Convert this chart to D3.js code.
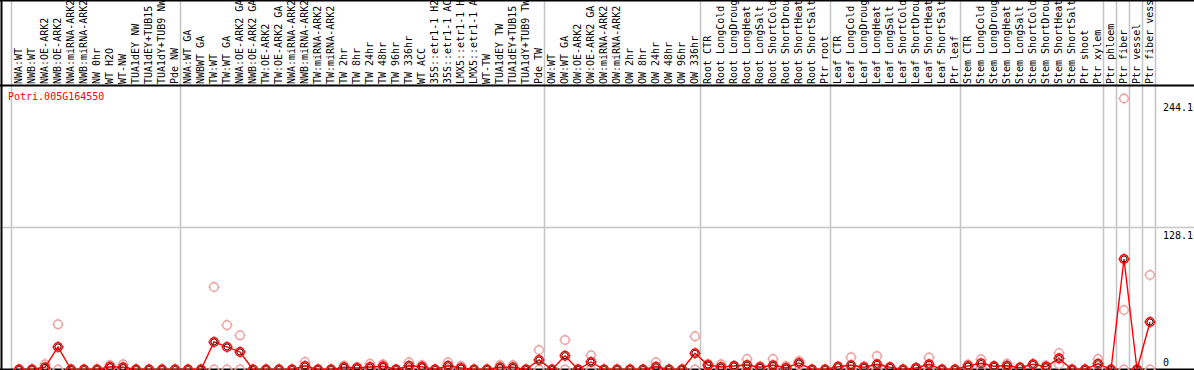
<!DOCTYPE html>
<html>
<head>
<meta charset="utf-8">
<script src="https://cdn.jsdelivr.net/npm/d3@7"></script>
<style>
  body { margin: 0; background: #fff; }
  svg { display: block; }
  text { font-family: "DejaVu Sans Mono", monospace; font-size: 10px; }
</style>
</head>
<body>
<svg id="chart"></svg>
<script>
var gene = "Potri.005G164550";

var samples = [
  "NWA:WT","NWB:WT","NWA:OE-ARK2","NWB:OE-ARK2","NWA:miRNA-ARK2","NWB:miRNA-ARK2","NW 0hr","WT H2O","WT-NW","TUA1dEY NW","TUA1dEY+TUB15 NW","TUA1dY+TUB9 NW","Pde NW",
  "NWA:WT GA","NWBWT GA","TW:WT","TW:WT GA","NWA:OE-ARK2 GA","NWB:OE-ARK2 GA","TW:OE-ARK2","TW:OE-ARK2 GA","NWA:miRNA-ARK2 GA","NWB:miRNA-ARK2 GA","TW:miRNA-ARK2","TW:miRNA-ARK2 GA","TW 2hr","TW 8hr","TW 24hr","TW 48hr","TW 96hr","TW 336hr","WT ACC","35S::etr1-1 H2O","35S::etr1-1 ACC","LMX5::etr1-1 H2O","LMX5::etr1-1 ACC","WT-TW","TUA1dEY TW","TUA1dEY+TUB15 TW","TUA1dY+TUB9 TW","Pde TW",
  "OW:WT","OW:WT GA","OW:OE-ARK2","OW:OE-ARK2 GA","OW:miRNA-ARK2","OW:miRNA-ARK2 GA","OW 2hr","OW 8hr","OW 24hr","OW 48hr","OW 96hr","OW 336hr",
  "Root CTR","Root LongCold","Root LongDrought","Root LongHeat","Root LongSalt","Root ShortCold","Root ShortDrought","Root ShortHeat","Root ShortSalt","Ptr root",
  "Leaf CTR","Leaf LongCold","Leaf LongDrought","Leaf LongHeat","Leaf LongSalt","Leaf ShortCold","Leaf ShortDrought","Leaf ShortHeat","Leaf ShortSalt","Ptr leaf",
  "Stem CTR","Stem LongCold","Stem LongDrought","Stem LongHeat","Stem LongSalt","Stem ShortCold","Stem ShortDrought","Stem ShortHeat","Stem ShortSalt","Ptr shoot","Ptr xylem",
  "Ptr phloem","Ptr fiber","Ptr vessel","Ptr fiber vessel"
];

// columns per group, a grey separator after each
var groupSizes = [13, 28, 12, 10, 10, 11, 1, 1, 1, 1];

// mean expression (dark markers + line)
var means = [
  0,0,2,20.3,0,0,0,2.5,2,0,0,0,0,
  0,0,24.8,20.3,15.8,0,0,0,0,3.2,0,0,2,1.4,2.3,2.9,0,3.4,2.5,0,3.4,1.4,0,0,2,2,0,8.6,
  0,12.4,0,6.8,0,0,0,0,2.5,0,0,14.6,
  4,2.3,3.2,4,2,3.8,1.4,5.9,0,0,
  2.5,3.8,2,4.7,2,0,1.4,4.7,0,0,
  3.2,5.5,2.9,3.4,1.7,4.7,2.5,10,0,0,5.2,
  0,99.5,0,42.8
];

// replicate values (pale markers)
var reps = [
  [0,0],[0,0],[4.7,0],[40.7,0],[0,0],[0,0],[0,0],[4,1],[4.7,0],[0,0],[0,0],[0,0],[0,0],
  [0,0],[0,0],[74.3,0],[40,0],[30.8,0],[0,0],[0,0],[0,0],[0,0],[6.8,0],[0,0],[0,0],[3.4,0.6],[2.3,0.5],[5.2,0],[4.7,1],[0,0],[6.5,0.3],[4,1],[0,0],[6.5,0.3],[3.2,0],[0,0],[0,0],[4,0],[4,0],[0,0],[17.6,0],
  [0,0],[26.6,0],[0,0],[12.8,0],[0,0],[0,0],[0,0],[0,0],[6.5,0],[0,0],[0,0],[29.9,0],
  [5,3],[4.7,0],[3.2,3.2],[9.5,0],[2.9,1],[9.5,0],[2.9,0],[7.7,4],[0,0],[0,0],
  [2.9,2],[11,0],[2.9,1],[12.2,0],[2,2],[0,0],[1.4,1.4],[10.7,0],[0,0],[0,0],
  [2,4.4],[9.2,1.8],[2.9,2.9],[5.2,1.6],[1.7,1.7],[4.7,4.7],[3.8,1.2],[14.9,4.7],[0,0],[0,0],[9.5,0.9],
  [0,0],[244.1,53.6,0],[0,0],[85.1,0]
];

var yTicks = [0, 128.1, 244.1];

var width = 1194, height = 370;
var svg = d3.select("#chart").attr("width", width).attr("height", height);

var x = d3.scaleBand().domain(d3.range(samples.length)).range([11, 1155]);
var cx = function(i) { return x(i) + 8; };
var y = d3.scaleLinear().domain([0, 244.1]).range([369.5, 98.5]);

// group separators
var bounds = [0];
groupSizes.forEach(function(n) { bounds.push(bounds[bounds.length - 1] + n); });
svg.selectAll("line.sep").data(bounds).enter().append("line")
  .attr("class", "sep")
  .attr("x1", function(b) { return x.step() * b + 11.5; })
  .attr("x2", function(b) { return x.step() * b + 11.5; })
  .attr("y1", 0).attr("y2", height)
  .attr("stroke", "#c4c4c4").attr("stroke-width", 1.5);

// horizontal grid at the middle tick
svg.append("line")
  .attr("x1", 0).attr("x2", width)
  .attr("y1", Math.round(y(128.1)) + 0.5).attr("y2", Math.round(y(128.1)) + 0.5)
  .attr("stroke", "#c4c4c4").attr("stroke-width", 1.5);

// frame
svg.append("line").attr("x1", 0).attr("x2", width).attr("y1", 0.5).attr("y2", 0.5).attr("stroke", "#000").attr("stroke-width", 2);
svg.append("line").attr("x1", 0).attr("x2", width).attr("y1", 85.5).attr("y2", 85.5).attr("stroke", "#000").attr("stroke-width", 2);
svg.append("line").attr("x1", 0).attr("x2", width).attr("y1", 369.5).attr("y2", 369.5).attr("stroke", "#000").attr("stroke-width", 2);
svg.append("line").attr("x1", 1.5).attr("x2", 1.5).attr("y1", 0).attr("y2", height).attr("stroke", "#000").attr("stroke-width", 2);

// column labels
svg.selectAll("text.lab").data(samples).enter().append("text")
  .attr("class", "lab")
  .attr("transform", function(d, i) { return "translate(" + (cx(i) + 3) + ",84) rotate(-90)"; })
  .attr("fill", "#000")
  .text(function(d) { return d; });

// y tick labels
svg.selectAll("text.tick").data(yTicks).enter().append("text")
  .attr("class", "tick")
  .attr("x", 1163)
  .attr("y", function(d) { return d === 0 ? 366 : Math.round(y(d)) + 12; })
  .attr("fill", "#000")
  .text(function(d) { return d === 0 ? "0" : d3.format(".1f")(d); });

svg.append("text").attr("x", 8).attr("y", 100).attr("fill", "#f00").text(gene);

// marker: ring with four tiny spokes
function marker(g, color, r) {
  g.append("circle").attr("r", r).attr("fill", "none").attr("stroke", color).attr("stroke-width", 1.5);
  g.append("path")
    .attr("d", "M0," + (-r - 1.5) + "V" + (-r) + "M0," + r + "V" + (r + 1.5) +
               "M" + (-r - 1.5) + ",0H" + (-r) + "M" + r + ",0H" + (r + 1.5))
    .attr("stroke", color).attr("stroke-width", 1);
}

// replicate points
var repPts = [];
reps.forEach(function(r, i) { r.forEach(function(v) { repPts.push({ i: i, v: v }); }); });
var rg = svg.selectAll("g.rep").data(repPts).enter().append("g")
  .attr("class", "rep")
  .attr("transform", function(d) { return "translate(" + cx(d.i) + "," + y(d.v) + ")"; });
marker(rg, "#f0a0a0", 4.3);

// mean line
var line = d3.line().x(function(d, i) { return cx(i); }).y(function(d) { return y(d); });
svg.append("path").datum(means).attr("d", line)
  .attr("fill", "none").attr("stroke", "#f00").attr("stroke-width", 1.4);

var mg = svg.selectAll("g.mean").data(means).enter().append("g")
  .attr("class", "mean")
  .attr("transform", function(d, i) { return "translate(" + cx(i) + "," + y(d) + ")"; });
marker(mg, "#f00", 4.3);
mg.append("circle").attr("r", 3).attr("fill", "none").attr("stroke", "#300").attr("stroke-width", 0.9);
</script>
</body>
</html>
